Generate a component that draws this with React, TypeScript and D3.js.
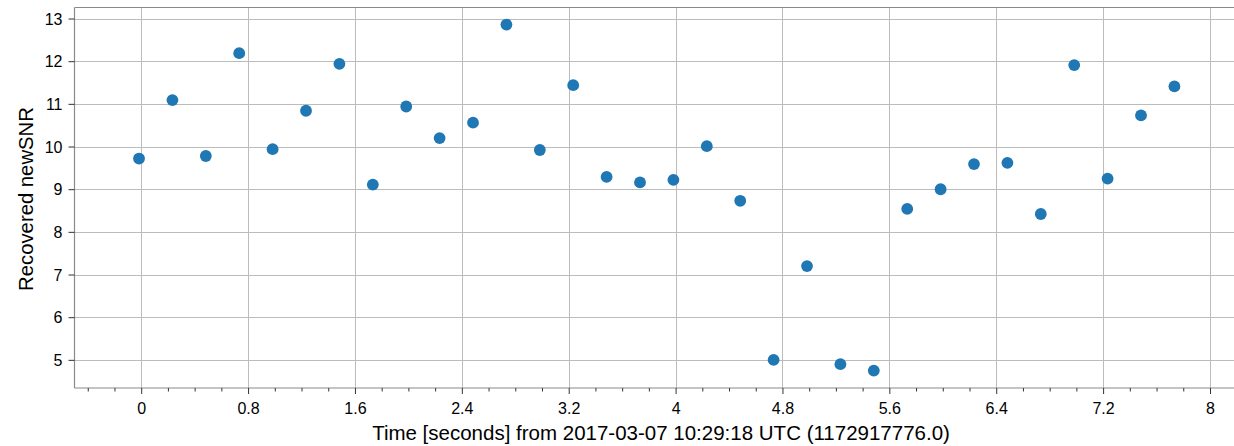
import React from "react";
import * as d3 from "d3";

const times: number[] = [
  -0.02, 0.23, 0.48, 0.73, 0.98, 1.23, 1.48, 1.73, 1.98, 2.23, 2.48, 2.73, 2.98, 3.23, 3.48, 3.73,
  3.98, 4.23, 4.48, 4.73, 4.98, 5.23, 5.48, 5.73, 5.98, 6.23, 6.48, 6.73, 6.98, 7.23, 7.48, 7.73,
];
const snr: number[] = [
  9.73, 11.1, 9.79, 12.2, 9.95, 10.85, 11.95, 9.12, 10.95, 10.21, 10.57, 12.87, 9.93, 11.45, 9.3, 9.17,
  9.23, 10.02, 8.74, 5.01, 7.21, 4.91, 4.76, 8.55, 9.01, 9.6, 9.63, 8.43, 11.92, 9.26, 10.74, 11.42,
];
const xMajorTicks: number[] = [0, 0.8, 1.6, 2.4, 3.2, 4, 4.8, 5.6, 6.4, 7.2, 8];
const xTickLabels: string[] = ["0", "0.8", "1.6", "2.4", "3.2", "4", "4.8", "5.6", "6.4", "7.2", "8"];
const xMinorTicks: number[] = [
  -0.4, -0.2, 0.2, 0.4, 0.6, 1.0, 1.2, 1.4, 1.8, 2.0, 2.2, 2.6, 2.8, 3.0, 3.4, 3.6, 3.8, 4.2, 4.4, 4.6,
  5.0, 5.2, 5.4, 5.8, 6.0, 6.2, 6.6, 6.8, 7.0, 7.4, 7.6, 7.8, 8.2,
];
const yTicks: number[] = [5, 6, 7, 8, 9, 10, 11, 12, 13];
const xLabel = "Time [seconds] from 2017-03-07 10:29:18 UTC (1172917776.0)";
const yLabel = "Recovered newSNR";

const W = 1234;
const H = 446;
const L = 74.5;
const R = 1240;
const T = 7.5;
const B = 388;

export default function App() {
  const x = d3.scaleLinear().domain([-0.503, 8.221]).range([L, R]);
  const y = d3.scaleLinear().domain([4.352, 13.27]).range([B, T]);
  const font = "'Liberation Sans', Arial, Helvetica, sans-serif";
  const gridColor = "#bcbcbc";
  const spine = "#8a8a8a";
  const tickColor = "#333333";
  return (
    <svg
      width={W}
      height={H}
      style={{ position: "absolute", left: 0, top: 0, background: "#fff" }}
      fontFamily={font}
    >
      <defs>
        <clipPath id="plot">
          <rect x={L} y={T} width={R - L} height={B - T} />
        </clipPath>
      </defs>
      <rect x={0} y={0} width={W} height={H} fill="#fff" />
      <g stroke={gridColor} strokeWidth={1} shapeRendering="crispEdges">
        {xMajorTicks.map((t) => (
          <line key={"gx" + t} x1={x(t)} x2={x(t)} y1={T} y2={B} />
        ))}
        {yTicks.map((t) => (
          <line key={"gy" + t} x1={L} x2={R} y1={y(t)} y2={y(t)} />
        ))}
      </g>
      <g clipPath="url(#plot)">
        {times.map((t, i) => (
          <circle key={i} cx={x(t)} cy={y(snr[i])} r={5.9} fill="#1f77b4" />
        ))}
      </g>
      <g stroke={spine} strokeWidth={1.2} fill="none">
        <line x1={L} x2={R} y1={T} y2={T} />
        <line x1={L} x2={L} y1={T} y2={B} />
        <line x1={L} x2={R} y1={B} y2={B} />
      </g>
      <g stroke={tickColor} strokeWidth={1}>
        {xMajorTicks.map((t) => (
          <line key={"xt" + t} x1={x(t)} x2={x(t)} y1={B} y2={B + 6} />
        ))}
        {xMinorTicks.map((t) => (
          <line key={"xm" + t} x1={x(t)} x2={x(t)} y1={B} y2={B + 3.5} />
        ))}
        {yTicks.map((t) => (
          <line key={"yt" + t} x1={L - 6} x2={L} y1={y(t)} y2={y(t)} />
        ))}
      </g>
      <g fontSize={16} fill="#000">
        {xMajorTicks.map((t, i) => (
          <text key={"xl" + t} x={x(t)} y={413.5} textAnchor="middle">
            {xTickLabels[i]}
          </text>
        ))}
        {yTicks.map((t) => (
          <text key={"yl" + t} x={L - 12} y={y(t) + 5.7} textAnchor="end">
            {String(t)}
          </text>
        ))}
      </g>
      <text x={661} y={440} fontSize={20.5} textAnchor="middle" fill="#000">
        {xLabel}
      </text>
      <text
        transform={`translate(33, 199) rotate(-90)`}
        fontSize={20.3}
        textAnchor="middle"
        fill="#000"
      >
        {yLabel}
      </text>
    </svg>
  );
}
